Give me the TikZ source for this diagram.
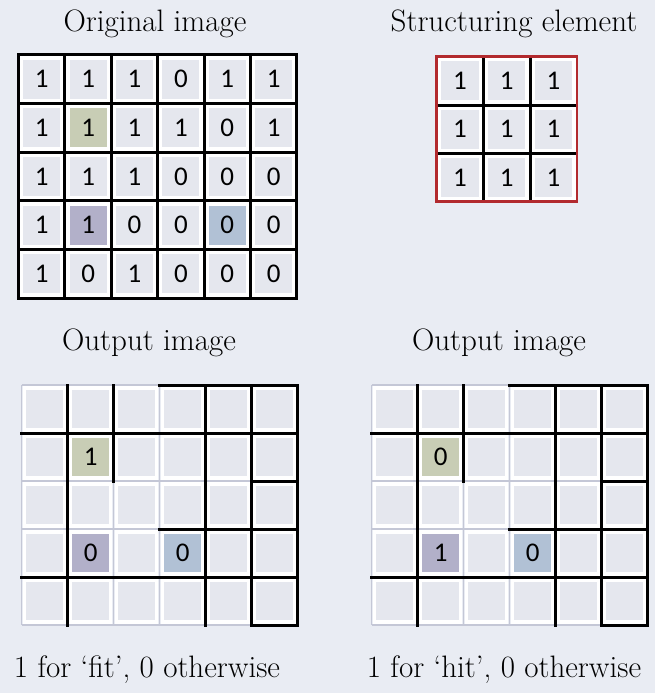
\documentclass[tikz,border=0pt]{standalone}
\usepackage{fontspec}
\newfontfamily\cellfont{Carlito}
\definecolor{pagebg}{RGB}{233,236,243}
\definecolor{cellbg}{RGB}{229,231,238}
\definecolor{faintline}{RGB}{196,199,214}
\definecolor{hlgreen}{RGB}{200,205,181}
\definecolor{hlpurple}{RGB}{178,176,201}
\definecolor{hlblue}{RGB}{177,193,213}
\definecolor{serred}{RGB}{178,42,46}
\tikzset{
	cell/.style={draw=white, line width=3.5pt, fill=cellbg, inner sep=0pt, font=\cellfont\fontsize{27}{27}\selectfont},
	digit/.style={inner sep=0pt, font=\cellfont\fontsize{27}{27}\selectfont},
	heading/.style={anchor=base, inner sep=0pt, font=\fontsize{31}{37}\selectfont},
	gridline/.style={line width=3pt, line cap=rect},
	faint/.style={draw=faintline, line width=1.5pt},
	orig 1-1/.style={fill=hlgreen},
	orig 3-1/.style={fill=hlpurple},
	orig 3-4/.style={fill=hlblue},
	out 1-1/.style={fill=hlgreen},
	out 3-1/.style={fill=hlpurple},
	out 3-3/.style={fill=hlblue}
}
\begin{document}
\begin{tikzpicture}[x=1pt, y=-1pt]
	\fill[pagebg] (0,0) rectangle (655,693);
	\useasboundingbox (0,0) rectangle (655,693);
	\node[heading] (orig-title) at (155,32) {Original image};
	\node[heading] (se-title) at (514,32) {Structuring element};
	\begin{scope}[shift={(18.5,55)}, x=46.4pt, y=-48.6pt]
		\foreach \row [count=\r from 0] in {{1,1,1,0,1,1},{1,1,1,1,0,1},{1,1,1,0,0,0},{1,1,0,0,0,0},{1,0,1,0,0,0}}
			\foreach \v [count=\c from 0] in \row
				\node[cell, minimum width=40.4pt, minimum height=42.6pt, orig \r-\c/.try] (orig-\r-\c) at (\c+0.5,\r+0.5) {\v};
		\foreach \c in {1,...,5}
			\draw[gridline] (\c,0) -- (\c,5);
		\foreach \r in {1,...,4}
			\draw[gridline] (0,\r) -- (6,\r);
		\draw[gridline] (0,0) rectangle (6,5);
	\end{scope}
	\begin{scope}[shift={(436.7,56.7)}, x=46.7pt, y=-48.3pt]
		\foreach \r in {0,1,2}
			\foreach \c in {0,1,2}
				\node[cell, minimum width=40.7pt, minimum height=42.3pt] (se-\r-\c) at (\c+0.5,\r+0.5) {1};
		\foreach \i in {1,2} {
			\draw[gridline] (\i,0) -- (\i,3);
			\draw[gridline] (0,\i) -- (3,\i);
		}
		\draw[line width=2.6pt, draw=serred] (0,0) rectangle (3,3);
	\end{scope}
	\foreach \g/\ox/\a/\b/\tx/\cx in {fit/21.7/1/0/149/147, hit/371.7/0/1/499/504} {
		\node[heading] (\g-title) at (\tx,350) {Output image};
		\node[heading] (\g-caption) at (\cx,677) {1 for ‘\g’, 0 otherwise};
		\begin{scope}[shift={(\ox,385)}, x=46pt, y=-48pt]
			\foreach \r in {0,...,4}
				\foreach \c in {0,...,5}
					\node[cell, minimum width=40pt, minimum height=42pt, out \r-\c/.try] (\g-\r-\c) at (\c+0.5,\r+0.5) {};
			\node[digit] (\g-v1) at (\g-1-1) {\a};
			\node[digit] (\g-v2) at (\g-3-1) {\b};
			\node[digit] (\g-v3) at (\g-3-3) {0};
			\foreach \i in {0,...,6}
				\draw[faint] (\i,0) -- (\i,5);
			\foreach \i in {0,...,5}
				\draw[faint] (0,\i) -- (6,\i);
			\draw[gridline] (1,0) -- (1,5) (2,0) -- (2,2) (4,0) -- (4,5) (5,0) -- (5,5) (6,0) -- (6,5);
			\draw[gridline] (3,0) -- (6,0) (0,1) -- (6,1) (5,2) -- (6,2) (3,3) -- (6,3) (0,4) -- (6,4) (5,5) -- (6,5);
		\end{scope}
	}
\end{tikzpicture}
\end{document}
